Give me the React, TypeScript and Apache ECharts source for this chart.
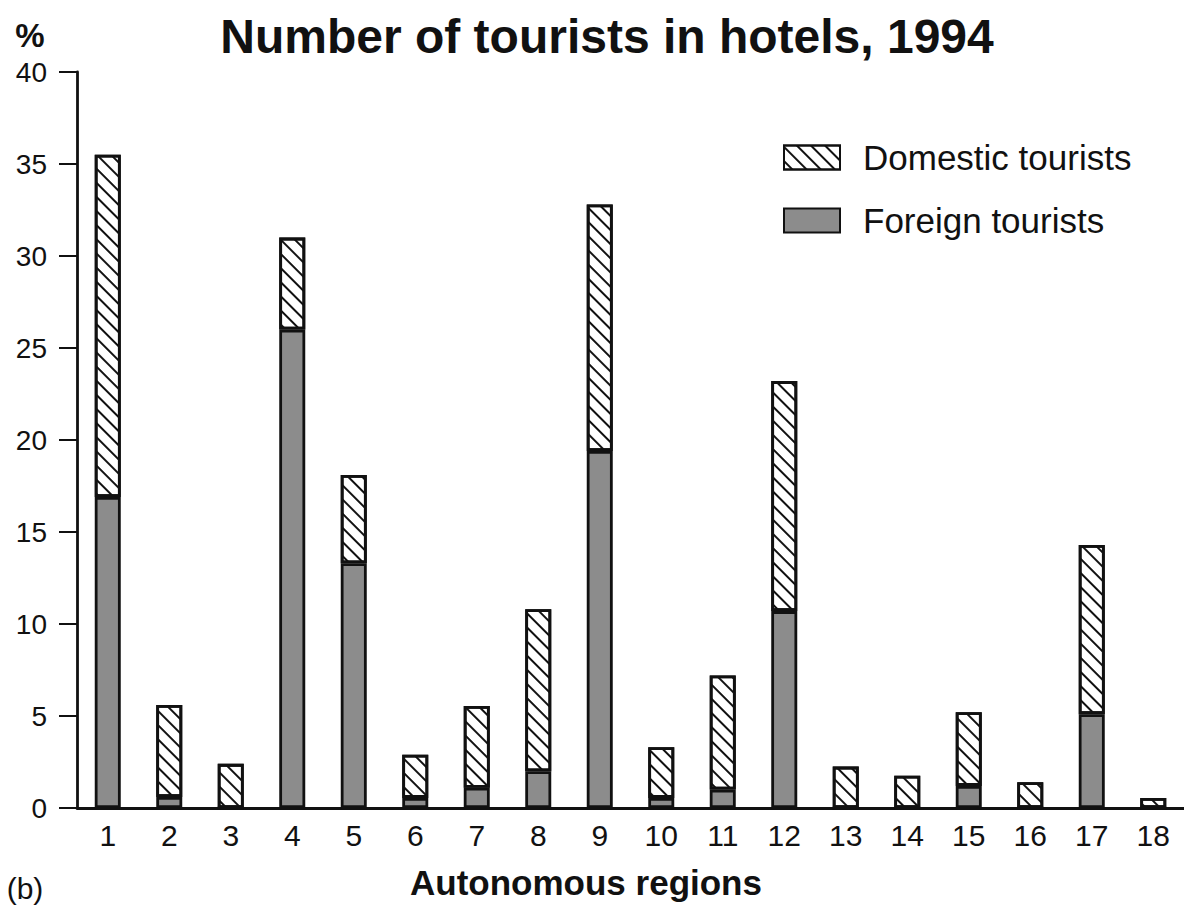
import React, { useEffect, useRef } from "react";
import * as echarts from "echarts";

const regions = ["1", "2", "3", "4", "5", "6", "7", "8", "9", "10", "11", "12", "13", "14", "15", "16", "17", "18"];
const foreignTourists = [16.9, 0.6, 0, 26.0, 13.3, 0.55, 1.1, 2.0, 19.4, 0.55, 1.0, 10.7, 0, 0, 1.2, 0, 5.1, 0];
const domesticTourists = [18.6, 5.0, 2.4, 5.0, 4.8, 2.35, 4.45, 8.8, 13.4, 2.75, 6.2, 12.5, 2.25, 1.75, 4.0, 1.4, 9.2, 0.55];
const yMin = 0;
const yMax = 40;
const yStep = 5;

const FONT = "'Liberation Sans', Arial, Helvetica, sans-serif";
const INK = "#111";

export default function App() {
  const ref = useRef<HTMLDivElement>(null);

  useEffect(() => {
    if (!ref.current) return;
    const chart = echarts.init(ref.current, null, { renderer: "svg" });
    const hatch = {
      symbol: "rect",
      symbolSize: 1,
      dashArrayX: [1, 0],
      dashArrayY: [2, 8],
      rotation: Math.PI / 4,
      color: INK,
      backgroundColor: "#fff",
    };
    chart.setOption({
      animation: false,
      backgroundColor: "#fff",
      textStyle: { fontFamily: FONT },
      grid: { left: 77, right: 0, top: 72, bottom: 100, containLabel: false },
      legend: {
        orient: "vertical",
        left: 783,
        top: 140,
        padding: 0,
        itemWidth: 56,
        itemHeight: 24,
        itemGap: 28,
        icon: "rect",
        selectedMode: false,
        textStyle: { fontSize: 35, color: INK, fontFamily: FONT, padding: [0, 0, 0, 18] },
        data: ["Domestic tourists", "Foreign tourists"],
      },
      xAxis: {
        type: "category",
        data: regions,
        axisLine: { lineStyle: { color: INK, width: 2.8 } },
        axisTick: { show: false },
        axisLabel: { color: INK, fontSize: 30, margin: 12, fontFamily: FONT },
      },
      yAxis: {
        type: "value",
        min: yMin,
        max: yMax,
        interval: yStep,
        splitLine: { show: false },
        axisLine: { show: true, lineStyle: { color: INK, width: 2.8 } },
        axisTick: { show: true, length: 18, lineStyle: { color: INK, width: 2 } },
        axisLabel: { color: INK, fontSize: 28, margin: 30, fontFamily: FONT },
      },
      series: [
        {
          name: "Foreign tourists",
          type: "bar",
          stack: "total",
          data: foreignTourists,
          barWidth: 26,
          itemStyle: { color: "#8c8c8c", borderColor: INK, borderWidth: 2.8 },
        },
        {
          name: "Domestic tourists",
          type: "bar",
          stack: "total",
          data: domesticTourists,
          barWidth: 26,
          itemStyle: { color: "#fff", borderColor: INK, borderWidth: 2.8, decal: hatch },
        },
      ],
      graphic: [
        {
          type: "text",
          x: 607,
          y: 36,
          style: { text: "Number of tourists in hotels, 1994", font: `bold 48px ${FONT}`, fill: INK, align: "center", verticalAlign: "middle" },
        },
        {
          type: "text",
          x: 30,
          y: 35,
          style: { text: "%", font: `bold 33px ${FONT}`, fill: INK, align: "center", verticalAlign: "middle" },
        },
        {
          type: "text",
          x: 586,
          y: 882,
          style: { text: "Autonomous regions", font: `bold 35px ${FONT}`, fill: INK, align: "center", verticalAlign: "middle" },
        },
        {
          type: "text",
          x: 25,
          y: 888,
          style: { text: "(b)", font: `30px ${FONT}`, fill: INK, align: "center", verticalAlign: "middle" },
        },
      ],
    });
    return () => chart.dispose();
  }, []);

  return (
    <div
      ref={ref}
      style={{ position: "absolute", left: 0, top: 0, width: 1184, height: 908, background: "#fff" }}
    />
  );
}
